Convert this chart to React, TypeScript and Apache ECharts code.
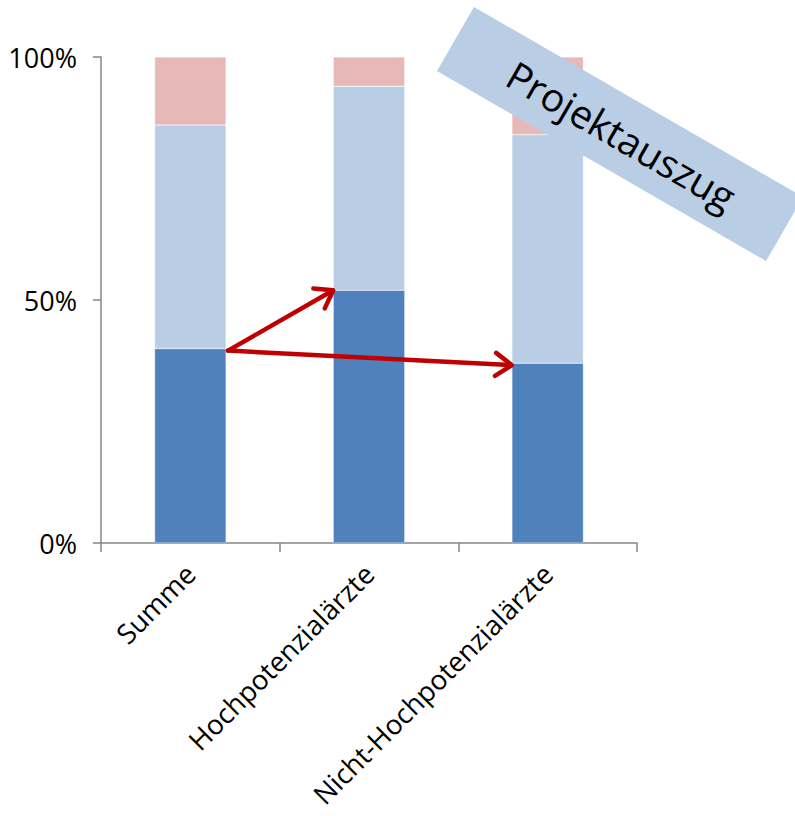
import React, { useEffect, useRef } from "react";
import * as echarts from "echarts";

const categories = ["Summe", "Hochpotenzialärzte", "Nicht-Hochpotenzialärzte"];
const darkValues = [40, 52, 37];
const lightValues = [46, 42, 47];
const pinkValues = [14, 6, 16];
const yTicks = [0, 50, 100];
const bannerText = "Projektauszug";

const FONT = "'Open Sans', 'Noto Sans', sans-serif";

export default function App() {
  const ref = useRef<HTMLDivElement>(null);
  useEffect(() => {
    if (!ref.current) return;
    const chart = echarts.init(ref.current, undefined, { renderer: "svg" });
    const barStyle = (c: string) => ({ color: c, borderColor: "rgba(255,255,255,0.6)", borderWidth: 0.5 });
    chart.setOption({
      animation: false,
      grid: { left: 101, right: 158, top: 57, bottom: 273, containLabel: false },
      xAxis: {
        type: "category",
        data: categories,
        axisLine: { lineStyle: { color: "#868686", width: 1.5 } },
        axisTick: { show: true, length: 9, lineStyle: { color: "#868686", width: 1.5 } },
        axisLabel: { rotate: 45, margin: 26, color: "#000", fontSize: 27.5, fontFamily: FONT, interval: 0 },
      },
      yAxis: {
        type: "value",
        min: yTicks[0],
        max: yTicks[yTicks.length - 1],
        interval: 50,
        axisLine: { show: true, lineStyle: { color: "#868686", width: 1.5 } },
        axisTick: { show: true, length: 8, lineStyle: { color: "#868686", width: 1.5 } },
        splitLine: { show: false },
        axisLabel: { formatter: (v: number) => `${v}%`, color: "#000", fontSize: 27, fontFamily: FONT, margin: 24 },
      },
      series: [
        { type: "bar", stack: "s", data: darkValues, itemStyle: barStyle("#4f81bd"), barCategoryGap: "60%" },
        { type: "bar", stack: "s", data: lightValues, itemStyle: barStyle("#b9cde5") },
        { type: "bar", stack: "s", data: pinkValues, itemStyle: barStyle("#e6b9b8") },
      ],
    });

    const p0 = chart.convertToPixel({ xAxisIndex: 0, yAxisIndex: 0 }, [0, darkValues[0]]) as number[];
    const p1 = chart.convertToPixel({ xAxisIndex: 0, yAxisIndex: 0 }, [1, darkValues[1]]) as number[];
    const p2 = chart.convertToPixel({ xAxisIndex: 0, yAxisIndex: 0 }, [2, darkValues[2]]) as number[];
    const catW = p1[0] - p0[0];
    const half = (catW * 0.4) / 2;
    const tail = [p0[0] + half + 2, p0[1] + 2];
    const heads = [
      [p1[0] - half, p1[1]],
      [p2[0] - half, p2[1] + 2],
    ];
    const red = "#c00000";
    const arrow = (from: number[], to: number[]) => {
      const ang = Math.atan2(to[1] - from[1], to[0] - from[0]);
      const L = 20;
      const a = (35 * Math.PI) / 180;
      const w1 = [to[0] - L * Math.cos(ang - a), to[1] - L * Math.sin(ang - a)];
      const w2 = [to[0] - L * Math.cos(ang + a), to[1] - L * Math.sin(ang + a)];
      const style = { stroke: red, lineWidth: 4.5, lineCap: "round", lineJoin: "round", fill: null };
      return [
        { type: "line", shape: { x1: from[0], y1: from[1], x2: to[0] - 2 * Math.cos(ang), y2: to[1] - 2 * Math.sin(ang) }, style, z: 100 },
        { type: "polyline", shape: { points: [w1, to, w2] }, style, z: 100 },
      ];
    };

    chart.setOption({
      graphic: [
        ...arrow(tail, heads[0]),
        ...arrow(tail, heads[1]),
        {
          type: "group",
          x: 620,
          y: 134,
          rotation: -Math.PI / 6,
          z: 120,
          children: [
            { type: "rect", z: 120, shape: { x: -190, y: -37, width: 380, height: 74 }, style: { fill: "#b9cde5" } },
            {
              type: "text",
              z: 121,
              x: 2,
              y: 0,
              style: { text: bannerText, fill: "#000", fontSize: 39, fontFamily: FONT, align: "center", verticalAlign: "middle" },
            },
          ],
        },
      ],
    });
    return () => chart.dispose();
  }, []);
  return <div ref={ref} style={{ position: "absolute", left: 0, top: 0, width: 795, height: 816 }} />;
}
